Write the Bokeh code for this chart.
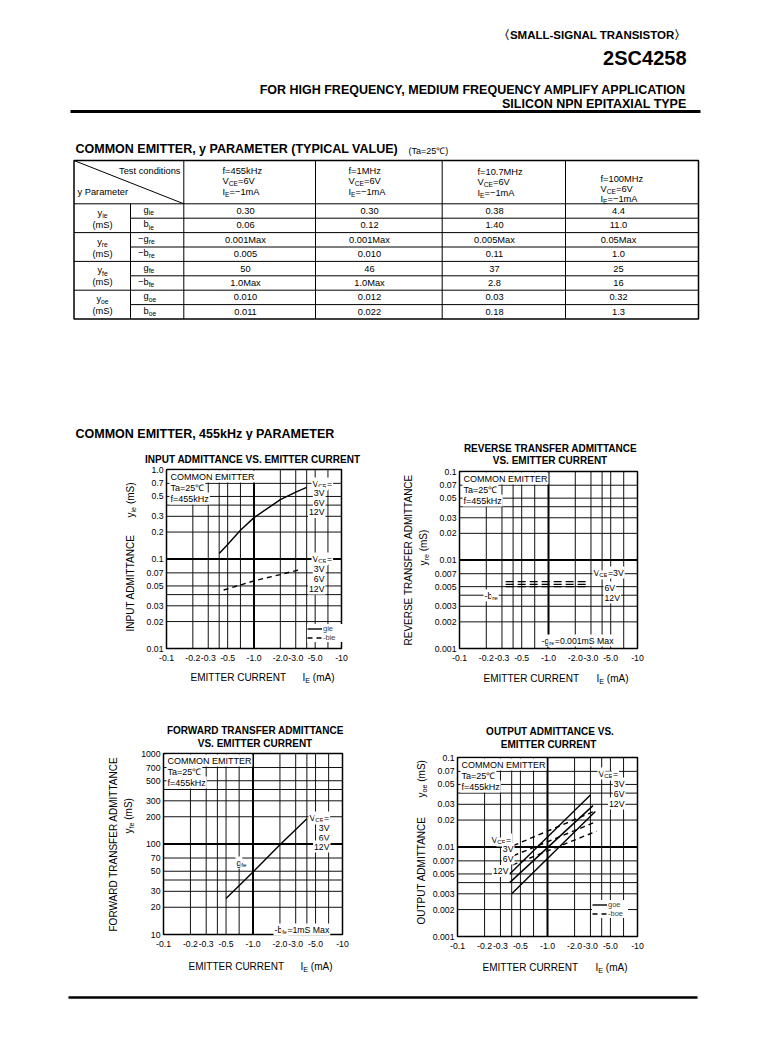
import math
from bokeh.plotting import figure
from bokeh.models import Range1d, Label, LabelSet, Legend, LegendItem, ColumnDataSource
from bokeh.layouts import column, row
from bokeh.embed import file_html
from bokeh.resources import INLINE
from bokeh.core.properties import value

FONT = "Liberation Sans"

# ---------------- data ----------------
header_series = "〈SMALL-SIGNAL TRANSISTOR〉"
part_number = "2SC4258"
app_line1 = "FOR HIGH FREQUENCY, MEDIUM FREQUENCY AMPLIFY APPLICATION"
app_line2 = "SILICON NPN EPITAXIAL TYPE"
table_title = "COMMON EMITTER, y PARAMETER (TYPICAL VALUE)"
table_cond = "(Ta=25℃)"
section_title = "COMMON EMITTER, 455kHz y PARAMETER"

freq_labels = ["f=455kHz", "f=1MHz", "f=10.7MHz", "f=100MHz"]
vce_cond = ["=6V", "=6V", "=6V", "=6V"]
ie_cond = ["=−1mA", "=−1mA", "=−1mA", "=−1mA"]
param_groups = ["ie", "re", "fe", "oe"]
row_sign = ["", "", "−", "−", "", "−", "", ""]
row_sym = ["g", "b", "g", "b", "g", "b", "g", "b"]
row_sub = ["ie", "ie", "re", "re", "fe", "fe", "oe", "oe"]
vals_455k = ["0.30", "0.06", "0.001Max", "0.005", "50", "1.0Max", "0.010", "0.011"]
vals_1m = ["0.30", "0.12", "0.001Max", "0.010", "46", "1.0Max", "0.012", "0.022"]
vals_10m7 = ["0.38", "1.40", "0.005Max", "0.11", "37", "2.8", "0.03", "0.18"]
vals_100m = ["4.4", "11.0", "0.05Max", "1.0", "25", "16", "0.32", "1.3"]

x_ticks = [0.1, 0.2, 0.3, 0.5, 1.0, 2.0, 3.0, 5.0, 10.0]
x_tick_labels = ["-0.1", "-0.2", "-0.3", "-0.5", "-1.0", "-2.0", "-3.0", "-5.0", "-10"]
x_grid = [0.2, 0.3, 0.4, 0.5, 0.7, 2.0, 3.0, 4.0, 5.0, 7.0]
x_major = [1.0]
y1_ticks = [0.01, 0.02, 0.03, 0.05, 0.07, 0.1, 0.2, 0.3, 0.5, 0.7, 1.0]
y1_labels = ["0.01", "0.02", "0.03", "0.05", "0.07", "0.1", "0.2", "0.3", "0.5", "0.7", "1.0"]
y1_grid = [0.02, 0.03, 0.04, 0.05, 0.07, 0.2, 0.3, 0.4, 0.5, 0.7]
y1_major = [0.1]
y2_ticks = [0.001, 0.002, 0.003, 0.005, 0.007, 0.01, 0.02, 0.03, 0.05, 0.07, 0.1]
y2_labels = ["0.001", "0.002", "0.003", "0.005", "0.007", "0.01", "0.02", "0.03", "0.05", "0.07", "0.1"]
y2_grid = [0.002, 0.003, 0.004, 0.005, 0.007, 0.02, 0.03, 0.04, 0.05, 0.07]
y2_major = [0.01]
y3_ticks = [10, 20, 30, 50, 70, 100, 200, 300, 500, 700, 1000]
y3_labels = ["10", "20", "30", "50", "70", "100", "200", "300", "500", "700", "1000"]
y3_grid = [20, 30, 40, 50, 70, 200, 300, 400, 500, 700]
y3_major = [100]

# chart 1: input admittance (VCE = 3V, 6V, 12V coincide)
ie_gie = [0.4, 0.5, 0.7, 1.0, 1.5, 2.0, 3.0, 4.0]
gie = [0.115, 0.145, 0.21, 0.29, 0.38, 0.46, 0.56, 0.63]
ie_bie = [0.45, 1.0, 2.0, 3.5]
bie = [0.045, 0.057, 0.067, 0.077]
# chart 2: reverse transfer admittance (-bre)
ie_bre = [0.33, 2.8]
bre_3v = [0.0057, 0.0057]
bre_6v = [0.0053, 0.0053]
bre_12v = [0.0050, 0.0050]
# chart 3: forward transfer admittance
ie_gfe = [0.5, 1.0, 2.0, 4.0]
gfe = [25, 49, 98, 190]
# chart 4: output admittance
ie_goe_3v = [0.38, 3.0]
goe_3v = [0.0050, 0.038]
ie_goe_6v = [0.38, 3.2]
goe_6v = [0.0040, 0.029]
ie_goe_12v = [0.40, 3.4]
goe_12v = [0.0030, 0.025]
ie_boe_3v = [0.42, 3.3]
boe_3v = [0.0104, 0.025]
ie_boe_6v = [0.42, 3.4]
boe_6v = [0.0080, 0.019]
ie_boe_12v = [0.41, 3.5]
boe_12v = [0.0063, 0.015]

# ---------------- text metrics (Arial / Liberation Sans) ----------------
AR = {' ': 278, '(': 333, ')': 333, '-': 333, '.': 278, ',': 278, '=': 584, '−': 584, '°': 400, '℃': 900,
      'A': 667, 'B': 667, 'C': 722, 'D': 722, 'E': 667, 'F': 611, 'G': 778, 'H': 722, 'I': 278, 'J': 500,
      'K': 667, 'L': 556, 'M': 833, 'N': 722, 'O': 778, 'P': 667, 'Q': 778, 'R': 722, 'S': 667, 'T': 611,
      'U': 722, 'V': 667, 'W': 944, 'X': 667, 'Y': 667, 'Z': 611,
      'a': 556, 'b': 556, 'c': 500, 'd': 556, 'e': 556, 'f': 278, 'g': 556, 'h': 556, 'i': 222, 'j': 222,
      'k': 500, 'l': 222, 'm': 833, 'n': 556, 'o': 556, 'p': 556, 'q': 556, 'r': 333, 's': 500, 't': 278,
      'u': 556, 'v': 500, 'w': 722, 'x': 500, 'y': 500, 'z': 500}


def tw(s, size):
    return sum(AR.get(c, 556) for c in s) * size / 1000.0


SUB = 0.72


def seg_list(segs, size):
    """(text without leading spaces, font size, baseline shift, lead width, full width)"""
    out = []
    for t, sub in segs:
        s = size * SUB if sub else size
        st = t.lstrip(" ")
        lead = tw(t[:len(t) - len(st)], s)
        out.append((st, s, size * 0.28 if sub else 0.0, lead, tw(t, s)))
    return out


PAGE_W = 765
TS = 9.3  # table font size

# ---------------- top figure: header + table ----------------
TOP_H = 440
top = figure(width=PAGE_W, height=TOP_H, x_range=Range1d(0, PAGE_W), y_range=Range1d(TOP_H, 0),
             x_axis_location=None, y_axis_location=None, min_border=0,
             output_backend="svg", toolbar_location=None)
top.grid.visible = False
top.outline_line_color = None


def ttext(x, y, t, size, bold=False, align="left"):
    top.text(x=[x], y=[y], text=[t], text_font=value(FONT), text_font_size=f"{size}px",
             text_font_style="bold" if bold else "normal", text_align=align,
             text_baseline="middle", text_color="black")


def trich(x, y, segs, size, align="left"):
    sl = seg_list(segs, size)
    total = sum(s[4] for s in sl)
    if align == "right":
        x -= total
    elif align == "center":
        x -= total / 2
    for t, s, dy, lead, w in sl:
        ttext(x + lead, y + dy, t, s)
        x += w


ttext(686, 34, header_series, 11.5, bold=True, align="right")
ttext(686, 57, part_number, 20, bold=True, align="right")
ttext(686, 89, app_line1, 12.5, bold=True, align="right")
ttext(686, 103, app_line2, 12.5, bold=True, align="right")
top.segment(x0=[70], y0=[111], x1=[700], y1=[111], line_color="black", line_width=3)

ttext(75, 148, table_title, 12.5, bold=True)
ttext(408, 150, table_cond, 9)
ttext(75, 433, section_title, 12.5, bold=True)

# table frame
T_L, T_R, T_T, T_HB, T_B = 73.5, 698, 160, 203.3, 318.5
RH = (T_B - T_HB) / 8
col_x = [183.3, 315, 441.7, 565]
top.quad(left=[T_L], right=[T_R], top=[T_T], bottom=[T_B], fill_color=None, line_color="black", line_width=1.5)
hx0, hy0, hx1, hy1 = [T_L], [T_HB], [T_R], [T_HB]
for r in range(1, 8):
    y = T_HB + r * RH
    hx0.append(T_L if r % 2 == 0 else 130); hx1.append(T_R); hy0.append(y); hy1.append(y)
top.segment(x0=hx0, y0=hy0, x1=hx1, y1=hy1, line_color="black", line_width=1)
vx = [130] + col_x
vy0 = [T_HB] + [T_T] * 4
top.segment(x0=vx, y0=vy0, x1=vx, y1=[T_B] * 5, line_color="black", line_width=1)
top.segment(x0=[T_L], y0=[T_T], x1=[col_x[0]], y1=[T_HB], line_color="black", line_width=1)

ttext(180, 170, "Test conditions", TS, align="right")
ttext(77, 191, "y Parameter", TS)

head_left = [222, 348, 477, 600]
head_y = [[170, 180.5, 191], [170, 180.5, 191], [171, 181.5, 192], [178, 188, 198]]
for i in range(4):
    ttext(head_left[i], head_y[i][0], freq_labels[i], TS)
    trich(head_left[i], head_y[i][1], [("V", False), ("CE", True), (vce_cond[i], False)], TS)
    trich(head_left[i], head_y[i][2], [("I", False), ("E", True), (ie_cond[i], False)], TS)

row_y = [T_HB + RH * (r + 0.5) for r in range(8)]
val_cx = [245, 369, 494, 618]
for cx, vals in zip(val_cx, [vals_455k, vals_1m, vals_10m7, vals_100m]):
    src = ColumnDataSource(dict(x=[cx] * len(vals), y=row_y, t=vals))
    top.text(x="x", y="y", text="t", source=src, text_font=value(FONT), text_font_size=f"{TS}px",
             text_align="center", text_baseline="middle", text_color="black")

for g, sub in enumerate(param_groups):
    gt = T_HB + 2 * RH * g
    trich(102, gt + 9, [("y", False), (sub, True)], TS, align="center")
    ttext(102, gt + 21, "(mS)", TS, align="center")
for r in range(8):
    segs = []
    if row_sign[r]:
        segs.append((row_sign[r], False))
    segs += [(row_sym[r], False), (row_sub[r], True)]
    trich(143 - (tw(row_sign[r], TS) if row_sign[r] else 0), row_y[r] - 1, segs, TS)


# ---------------- charts (frame = whole canvas, log scales) ----------------
BOX = {}


def make_chart(box, frame, yr, yticks, ylabels, ygrid, ymajor):
    bx0, by0, bx1, by1 = box
    fl, ft, fr, fb = frame
    lx0, lx1 = math.log10(0.1), math.log10(10.0)
    ly0, ly1 = math.log10(yr[0]), math.log10(yr[1])
    kx = (fr - fl) / (lx1 - lx0)
    ky = (fb - ft) / (ly1 - ly0)
    xr = Range1d(10 ** (lx0 - (fl - bx0) / kx), 10 ** (lx1 + (bx1 - fr) / kx))
    yrng = Range1d(10 ** (ly0 - (by1 - fb) / ky), 10 ** (ly1 + (ft - by0) / ky))
    p = figure(width=bx1 - bx0, height=by1 - by0, x_axis_type="log", y_axis_type="log",
               x_range=xr, y_range=yrng, x_axis_location=None, y_axis_location=None,
               min_border=0, output_backend="svg", toolbar_location=None)
    p.grid.visible = False
    p.outline_line_color = None
    BOX[p.id] = (bx0, by1)
    ymin, ymax = yr
    # grid lines
    p.segment(x0=x_grid, y0=[ymin] * len(x_grid), x1=x_grid, y1=[ymax] * len(x_grid),
              line_color="#111111", line_width=1)
    p.segment(x0=[0.1] * len(ygrid), y0=ygrid, x1=[10.0] * len(ygrid), y1=ygrid,
              line_color="#111111", line_width=1)
    p.segment(x0=x_major, y0=[ymin], x1=x_major, y1=[ymax], line_color="black", line_width=2)
    p.segment(x0=[0.1], y0=ymajor, x1=[10.0], y1=ymajor, line_color="black", line_width=2)
    p.quad(left=[0.1], right=[10.0], bottom=[ymin], top=[ymax], fill_color=None,
           line_color="black", line_width=1.5)
    # tick labels
    xs = ColumnDataSource(dict(x=x_ticks, y=[by1 - fb - 9] * len(x_ticks), t=x_tick_labels))
    p.add_layout(LabelSet(x="x", y="y", text="t", source=xs, x_units="data", y_units="screen",
                          text_font=value(FONT), text_font_size="8.7px", text_align="center",
                          text_baseline="middle", text_color="black"))
    ys = ColumnDataSource(dict(x=[fl - bx0 - 3] * len(yticks), y=yticks, t=ylabels))
    p.add_layout(LabelSet(x="x", y="y", text="t", source=ys, x_units="screen", y_units="data",
                          text_font=value(FONT), text_font_size="8.7px", text_align="right",
                          text_baseline="middle", text_color="black"))
    return p


def lab(p, X, Y, segs, size=8.7, align="left", bold=False, bg=True, rot=False):
    bx0, by1 = BOX[p.id]
    sl = seg_list(segs, size)
    total = sum(s[4] for s in sl)
    if align == "right":
        off = -total
    elif align == "center":
        off = -total / 2
    else:
        off = 0
    pos = off
    for t, s, dy, lead, w in sl:
        q = pos + lead
        if rot:
            x, y = X + dy - bx0, by1 - (Y - q)
        else:
            x, y = X + q - bx0, by1 - (Y + dy)
        kw = dict(x=x, y=y, x_units="screen", y_units="screen", text=t, text_font=FONT,
                  text_font_size=f"{s}px", text_font_style="bold" if bold else "normal",
                  text_align="left", text_baseline="middle", text_color="black",
                  angle=math.pi / 2 if rot else 0)
        if bg:
            kw.update(background_fill_color="white", padding=1)
        p.add_layout(Label(**kw))
        pos += w


def common_block(p, fl, ft):
    lab(p, fl + 3, ft + 7, [("COMMON EMITTER", False)], 9)
    lab(p, fl + 3, ft + 18, [("Ta=25℃", False)], 9)
    lab(p, fl + 3, ft + 29, [("f=455kHz", False)], 9)


def vce_group(p, x_left, x_right, ys, size=8.7):
    lab(p, x_left, ys[0], [("V", False), ("CE", True), ("=", False)], size)
    lab(p, x_right, ys[1], [("3V", False)], size, align="right")
    lab(p, x_right, ys[2], [("6V", False)], size, align="right")
    lab(p, x_right, ys[3], [("12V", False)], size, align="right")


def xlabel(p, x1, x2, y):
    lab(p, x1, y, [("EMITTER CURRENT", False)], 10, bg=False)
    lab(p, x2, y, [("I", False), ("E", True), (" (mA)", False)], 10, bg=False)


def make_legend(p, items, loc):
    bx0, by1 = BOX[p.id]
    leg = Legend(items=items, location=(loc[0] - bx0, by1 - loc[1]), orientation="vertical",
                 margin=0, padding=2, spacing=0,
                 label_text_font=FONT, label_text_font_size="7.5px", label_height=7, label_standoff=1,
                 glyph_width=15, glyph_height=7, border_line_color=None,
                 background_fill_color="white", background_fill_alpha=1.0)
    p.add_layout(leg)


LW = 1.4
DASH = "5 4"
R1, R2 = (440, 720), (720, 980)
SPLIT = 385

# chart 1
c1 = make_chart((0, R1[0], SPLIT, R1[1]), (166, 469, 341, 648), (0.01, 1.0), y1_ticks, y1_labels, y1_grid, y1_major)
r_gie = c1.line(ie_gie, gie, line_color="black", line_width=LW)
r_bie = c1.line(ie_bie, bie, line_color="black", line_width=LW, line_dash=DASH)
common_block(c1, 166, 469)
vce_group(c1, 311, 323, [483, 492.5, 502, 511.5])
vce_group(c1, 311, 323, [558, 568, 578, 588])
lab(c1, 252, 459, [("INPUT ADMITTANCE VS. EMITTER CURRENT", False)], 10, align="center", bold=True, bg=False)
lab(c1, 130, 631, [("INPUT ADMITTANCE", False)], 10, bg=False, rot=True)
lab(c1, 130, 517, [("y", False), ("ie", True), (" (mS)", False)], 10, bg=False, rot=True)
xlabel(c1, 190, 302, 677)
make_legend(c1, [LegendItem(label="gie", renderers=[r_gie]), LegendItem(label="-bie", renderers=[r_bie])], (307, 642))

# chart 2
c2 = make_chart((SPLIT, R1[0], PAGE_W, R1[1]), (459, 471, 637, 648), (0.001, 0.1), y2_ticks, y2_labels, y2_grid, y2_major)
for yv in (bre_3v, bre_6v, bre_12v):
    c2.line(ie_bre, yv, line_color="black", line_width=LW, line_dash="8 4")
common_block(c2, 459, 471)
lab(c2, 592, 572, [("V", False), ("CE", True), ("=3V", False)], 8.7)
lab(c2, 603, 587, [("6V", False)], 8.7)
lab(c2, 603, 597, [("12V", False)], 8.7)
lab(c2, 483, 595, [("-b", False), ("re", True)], 8.7)
lab(c2, 540, 640, [("-g", False), ("re", True), ("=0.001mS Max", False)], 8.7)
lab(c2, 549.5, 448, [("REVERSE TRANSFER ADMITTANCE", False)], 10, align="center", bold=True, bg=False)
lab(c2, 549.5, 460, [("VS. EMITTER CURRENT", False)], 10, align="center", bold=True, bg=False)
lab(c2, 408, 645, [("REVERSE TRANSFER ADMITTANCE", False)], 10, bg=False, rot=True)
lab(c2, 423, 565, [("y", False), ("re", True), (" (mS)", False)], 10, bg=False, rot=True)
xlabel(c2, 483, 596, 678)

# chart 3
c3 = make_chart((0, R2[0], SPLIT, R2[1]), (163, 753, 342, 934), (10, 1000), y3_ticks, y3_labels, y3_grid, y3_major)
c3.line(ie_gfe, gfe, line_color="black", line_width=LW)
common_block(c3, 163, 753)
vce_group(c3, 308, 328, [817, 827, 837, 846])
lab(c3, 235, 862, [("g", False), ("fe", True)], 8.7)
lab(c3, 273, 929, [("-b", False), ("fe", True), ("=1mS Max", False)], 8.7)
lab(c3, 254.5, 730, [("FORWARD TRANSFER ADMITTANCE", False)], 10, align="center", bold=True, bg=False)
lab(c3, 254.5, 743, [("VS. EMITTER CURRENT", False)], 10, align="center", bold=True, bg=False)
lab(c3, 113, 931, [("FORWARD TRANSFER ADMITTANCE", False)], 10, bg=False, rot=True)
lab(c3, 128, 833, [("y", False), ("fe", True), (" (mS)", False)], 10, bg=False, rot=True)
xlabel(c3, 188, 300, 966)

# chart 4
c4 = make_chart((SPLIT, R2[0], PAGE_W, R2[1]), (457, 757, 637, 936), (0.001, 0.1), y2_ticks, y2_labels, y2_grid, y2_major)
goe_lines = []
for xv, yv in ((ie_goe_3v, goe_3v), (ie_goe_6v, goe_6v), (ie_goe_12v, goe_12v)):
    goe_lines.append(c4.line(xv, yv, line_color="black", line_width=LW))
boe_lines = []
for xv, yv in ((ie_boe_3v, boe_3v), (ie_boe_6v, boe_6v), (ie_boe_12v, boe_12v)):
    boe_lines.append(c4.line(xv, yv, line_color="black", line_width=LW, line_dash=DASH))
common_block(c4, 457, 757)
vce_group(c4, 597, 623, [773, 783, 793, 803])
lab(c4, 490, 839, [("V", False), ("CE", True), ("=", False)], 8.7)
lab(c4, 512, 848.5, [("3V", False)], 8.7, align="right")
lab(c4, 512, 858, [("6V", False)], 8.7, align="right")
lab(c4, 507, 870.5, [("12V", False)], 8.7, align="right")
lab(c4, 549.5, 731, [("OUTPUT ADMITTANCE VS.", False)], 10, align="center", bold=True, bg=False)
lab(c4, 548, 744, [("EMITTER CURRENT", False)], 10, align="center", bold=True, bg=False)
lab(c4, 421, 924, [("OUTPUT ADMITTANCE", False)], 10, bg=False, rot=True)
lab(c4, 421, 797, [("y", False), ("oe", True), (" (mS)", False)], 10, bg=False, rot=True)
xlabel(c4, 482, 595, 967)
make_legend(c4, [LegendItem(label="goe", renderers=[goe_lines[0]]),
                 LegendItem(label="-boe", renderers=[boe_lines[0]])], (592, 918))

# ---------------- footer ----------------
FOOT_H = 65
foot = figure(width=PAGE_W, height=FOOT_H, x_range=Range1d(0, PAGE_W), y_range=Range1d(980 + FOOT_H, 980),
              x_axis_location=None, y_axis_location=None, min_border=0,
              output_backend="svg", toolbar_location=None)
foot.grid.visible = False
foot.outline_line_color = None
foot.segment(x0=[68], y0=[997], x1=[697], y1=[997], line_color="black", line_width=2.5)

layout = column(top, row(c1, c2), row(c3, c4), foot)
open("out.html", "w").write(file_html(layout, INLINE))
